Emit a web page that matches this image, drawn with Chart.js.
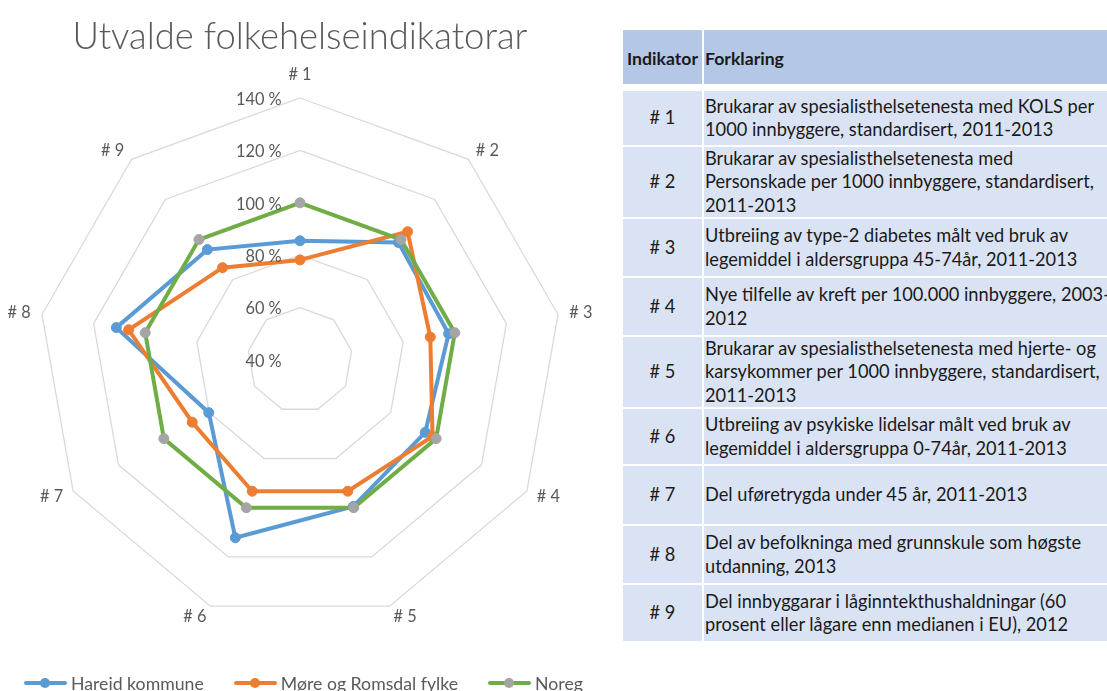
<!DOCTYPE html>
<html>
<head>
<meta charset="utf-8">
<script src="https://cdn.jsdelivr.net/npm/chart.js@4.4.1/dist/chart.umd.min.js"></script>
<style>
  html, body { margin: 0; padding: 0; background: #fff; }
  body { width: 1107px; height: 691px; overflow: hidden; position: relative; font-family: Lato, "Open Sans", sans-serif; }
  #chartBox { position: absolute; left: 0; top: 0; width: 600px; height: 691px; }
  #title { position: absolute; left: 0; width: 600px; text-align: center; color: #595959; font-weight: 300; line-height: 1; white-space: nowrap; }
  #legend { position: absolute; left: 24px; top: 671px; height: 24px; display: flex; align-items: center; color: #595959; white-space: nowrap; }
  #legend .item { display: flex; align-items: center; margin-right: 30px; }
  #legend .mk { position: relative; width: 43px; height: 12px; margin-right: 4px; }
  #legend .mk .ln { position: absolute; left: 0; right: 0; top: 4px; height: 4px; border-radius: 2px; }
  #legend .mk .dt { position: absolute; left: 16px; top: 1px; width: 10px; height: 10px; border-radius: 50%; }
  #tbl { position: absolute; left: 623px; top: 30px; display: grid; grid-template-columns: 79px 520px; column-gap: 2px; row-gap: 2px;
         grid-template-rows: 54px 3px 54px 70px 57px 57px 70px 55px 58px 57px 56px; color: #1a1a1a; }
  #tbl .c { background: #DAE3F3; display: flex; align-items: center; white-space: nowrap; }
  #tbl .h { background: #B4C7E7; font-weight: bold; padding-top: 4px; box-sizing: border-box; }
  #tbl .id { justify-content: center; }
  #tbl .tx { padding-left: 1px; }
  #tbl .sp { background: transparent; }
</style>
</head>
<body>
<div id="chartBox"><canvas id="c" width="600" height="691" style="width:600px;height:691px"></canvas></div>
<div id="title">Utvalde folkehelseindikatorar</div>
<div id="legend"></div>
<div id="tbl"></div>
<script>
// ---------------- data ----------------
const categories = ['# 1', '# 2', '# 3', '# 4', '# 5', '# 6', '# 7', '# 8', '# 9'];
const seriesNames = ['Hareid kommune', 'Møre og Romsdal fylke', 'Noreg'];
const hareid = [85.5, 98.5, 97.6, 95.2, 99.5, 112.2, 80.2, 111.2, 95.0];
const moreRomsdal = [78.2, 103.9, 90.5, 98.4, 93.3, 93.3, 87.5, 106.4, 86.0];
const noreg = [100, 100, 100, 100, 100, 100, 100, 100, 100];
const tickValues = [40, 60, 80, 100, 120, 140];
const tickLabels = ['40 %', '60 %', '80 %', '100 %', '120 %', '140 %'];
const tableHeader = ['Indikator', 'Forklaring'];
const tableIds = ['# 1', '# 2', '# 3', '# 4', '# 5', '# 6', '# 7', '# 8', '# 9'];
const tableText = [
  ['Brukarar av spesialisthelsetenesta med KOLS per', '1000 innbyggere, standardisert, 2011-2013'],
  ['Brukarar av spesialisthelsetenesta med', 'Personskade per 1000 innbyggere, standardisert,', '2011-2013'],
  ['Utbreiing av type-2 diabetes målt ved bruk av', 'legemiddel i aldersgruppa 45-74år, 2011-2013'],
  ['Nye tilfelle av kreft per 100.000 innbyggere, 2003-', '2012'],
  ['Brukarar av spesialisthelsetenesta med hjerte- og', 'karsykommer per 1000 innbyggere, standardisert,', '2011-2013'],
  ['Utbreiing av psykiske lidelsar målt ved bruk av', 'legemiddel i aldersgruppa 0-74år, 2011-2013'],
  ['Del uføretrygda under 45 år, 2011-2013'],
  ['Del av befolkninga med grunnskule som høgste', 'utdanning, 2013'],
  ['Del innbyggarar i låginntekthushaldningar (60', 'prosent eller lågare enn medianen i EU), 2012']
];

// ---------------- styles ----------------
const FAMILY = 'Lato';
const lineColors = ['#5B9BD5', '#ED7D31', '#70AD47'];
const markerColors = ['#5B9BD5', '#ED7D31', '#A5A5A5'];

function fitSize(text, weight, target) {
  const ctx = document.createElement('canvas').getContext('2d');
  ctx.font = weight + ' 100px ' + FAMILY;
  return 100 * target / ctx.measureText(text).width;
}
const titleSize = fitSize('Utvalde folkehelseindikatorar', '300', 455);
const bodySize = fitSize('Brukarar av spesialisthelsetenesta med KOLS per', '400', 390);
const headSize = fitSize('Indikator', 'bold', 71);
const legendSize = fitSize('Hareid kommune', '400', 133);
const tickSize = fitSize('140 %', '400', 45.7);

// title
const t = document.getElementById('title');
t.style.fontSize = titleSize.toFixed(2) + 'px';
t.style.top = (49 - 0.887 * titleSize).toFixed(1) + 'px';

// legend
const lg = document.getElementById('legend');
lg.style.fontSize = legendSize.toFixed(2) + 'px';
seriesNames.forEach((n, i) => {
  const it = document.createElement('div');
  it.className = 'item';
  it.innerHTML = '<span class="mk"><span class="ln" style="background:' + lineColors[i] + '"></span><span class="dt" style="background:' + markerColors[i] + '"></span></span><span></span>';
  it.lastChild.textContent = n;
  lg.appendChild(it);
});

// table
const tb = document.getElementById('tbl');
tb.style.fontSize = bodySize.toFixed(2) + 'px';
tb.style.lineHeight = '23.3px';
function cell(cls, lines, fs) {
  const d = document.createElement('div');
  d.className = 'c ' + cls;
  const s = document.createElement('div');
  lines.forEach((l, k) => { if (k) s.appendChild(document.createElement('br')); s.appendChild(document.createTextNode(l)); });
  d.appendChild(s);
  if (fs) d.style.fontSize = fs.toFixed(2) + 'px';
  tb.appendChild(d);
}
cell('h id', [tableHeader[0]], headSize);
cell('h tx', [tableHeader[1]], headSize);
const sp1 = document.createElement('div'); sp1.className = 'sp'; tb.appendChild(sp1);
const sp2 = document.createElement('div'); sp2.className = 'sp'; tb.appendChild(sp2);
tableIds.forEach((id, i) => { cell('id', [id]); cell('tx', tableText[i]); });

// ---------------- chart ----------------
const labelPlugin = {
  id: 'excelLabels',
  afterDraw(chart) {
    const sc = chart.scales.r;
    const ctx = chart.ctx;
    ctx.save();
    ctx.fillStyle = '#595959';
    ctx.font = tickSize.toFixed(2) + 'px ' + FAMILY;
    ctx.textBaseline = 'middle';
    ctx.textAlign = 'right';
    sc.ticks.forEach((tk) => {
      const idx = tickValues.indexOf(tk.value);
      const y = sc.yCenter - sc.getDistanceFromCenterForValue(tk.value) + 1.5;
      ctx.fillText(idx >= 0 ? tickLabels[idx] : tk.value + ' %', sc.xCenter - 18.3, y);
    });
    chart.data.labels.forEach((lab, i) => {
      const s = Math.sin(sc.getIndexAngle(i));
      let p;
      if (Math.abs(s) < 0.01) {
        ctx.textAlign = 'center';
        p = sc.getPointPosition(i, sc.drawingArea + 23.5);
      } else {
        ctx.textAlign = s > 0 ? 'left' : 'right';
        p = sc.getPointPosition(i, sc.drawingArea + 11.5);
      }
      ctx.fillText(lab, p.x, p.y);
    });
    ctx.restore();
  }
};

const dataArrays = [hareid, moreRomsdal, noreg];
new Chart(document.getElementById('c'), {
  type: 'radar',
  data: {
    labels: categories,
    datasets: dataArrays.map((arr, i) => ({
      label: seriesNames[i],
      data: arr,
      borderColor: lineColors[i],
      backgroundColor: lineColors[i],
      borderWidth: 4,
      fill: false,
      tension: 0,
      pointRadius: 5,
      pointHoverRadius: 5,
      pointBorderWidth: 1,
      pointBackgroundColor: markerColors[i],
      pointBorderColor: markerColors[i],
      order: 3 - i
    }))
  },
  options: {
    responsive: false,
    animation: false,
    layout: { padding: { left: 38, right: 38, top: 98, bottom: 69 } },
    plugins: { legend: { display: false }, title: { display: false }, tooltip: { enabled: false } },
    scales: {
      r: {
        min: tickValues[0],
        max: tickValues[tickValues.length - 1],
        ticks: { stepSize: 20, display: false },
        pointLabels: { display: false },
        angleLines: { display: false },
        grid: { color: '#D9D9D9', lineWidth: 1.3 }
      }
    }
  },
  plugins: [labelPlugin]
});
</script>
</body>
</html>
